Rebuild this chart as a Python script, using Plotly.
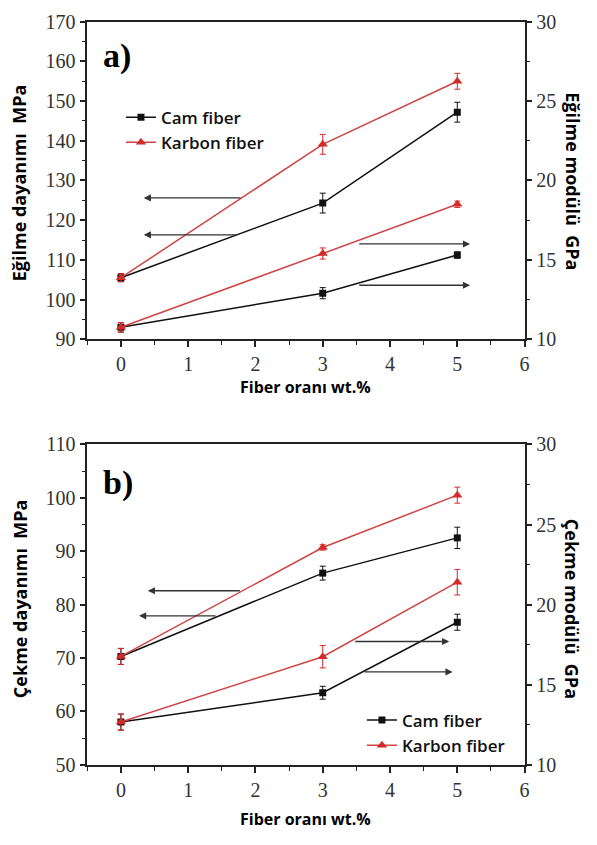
import plotly.graph_objects as go

# ---------------- data ----------------
x_fiber = [0, 3, 5]

# (a) Eğilme
cam_egilme_dayanim = [105.5, 124.3, 147.2]
cam_egilme_dayanim_err = [1.0, 2.5, 2.5]
karbon_egilme_dayanim = [105.5, 139.1, 155.0]
karbon_egilme_dayanim_err = [1.0, 2.5, 2.0]
cam_egilme_modul = [10.75, 12.9, 15.3]
cam_egilme_modul_err = [0.3, 0.35, 0.2]
karbon_egilme_modul = [10.75, 15.4, 18.5]
karbon_egilme_modul_err = [0.3, 0.35, 0.2]

# (b) Çekme
cam_cekme_dayanim = [70.3, 85.9, 92.5]
cam_cekme_dayanim_err = [1.5, 1.3, 2.0]
karbon_cekme_dayanim = [70.3, 90.7, 100.5]
karbon_cekme_dayanim_err = [1.5, 0.5, 1.5]
cam_cekme_modul = [12.67, 14.5, 18.9]
cam_cekme_modul_err = [0.5, 0.4, 0.5]
karbon_cekme_modul = [12.67, 16.75, 21.4]
karbon_cekme_modul_err = [0.5, 0.7, 0.8]

series_names = ["Cam fiber", "Karbon fiber"]

# arrows: (axis ref, head x, head y, tail x, tail y)
arrows_a = [
    ("y", 0.34, 125.6, 1.8, 125.6),
    ("y", 0.34, 116.3, 1.73, 116.3),
    ("y2", 5.19, 16.0, 3.52, 16.0),
    ("y2", 5.19, 13.4, 3.52, 13.4),
]
arrows_b = [
    ("y3", 0.4, 82.6, 1.79, 82.6),
    ("y3", 0.27, 77.9, 1.43, 77.9),
    ("y4", 4.88, 17.7, 3.46, 17.7),
    ("y4", 4.93, 15.8, 3.6, 15.8),
]

BLACK = "#111111"
RED = "#d42a2a"
RED_LINE = "#cf4545"

fig = go.Figure()

def add_series(xa, ya, y, err, color, line_color, symbol, size, name, legend, show):
    fig.add_trace(go.Scatter(
        x=x_fiber, y=y, xaxis=xa, yaxis=ya,
        mode="lines+markers", name=name, legend=legend, showlegend=show,
        line=dict(color=line_color, width=1.5),
        marker=dict(color=color, symbol=symbol, size=size),
        error_y=dict(type="data", array=err, visible=True, color=color,
                     thickness=1, width=3),
    ))

# top (a)
add_series("x", "y2", cam_egilme_modul, cam_egilme_modul_err, BLACK, BLACK, "square", 7, series_names[0], "legend", False)
add_series("x", "y2", karbon_egilme_modul, karbon_egilme_modul_err, RED, RED_LINE, "triangle-up", 9, series_names[1], "legend", False)
add_series("x", "y", cam_egilme_dayanim, cam_egilme_dayanim_err, BLACK, BLACK, "square", 7, series_names[0], "legend", True)
add_series("x", "y", karbon_egilme_dayanim, karbon_egilme_dayanim_err, RED, RED_LINE, "triangle-up", 9, series_names[1], "legend", True)

# bottom (b)
add_series("x2", "y4", cam_cekme_modul, cam_cekme_modul_err, BLACK, BLACK, "square", 7, series_names[0], "legend2", False)
add_series("x2", "y4", karbon_cekme_modul, karbon_cekme_modul_err, RED, RED_LINE, "triangle-up", 9, series_names[1], "legend2", False)
add_series("x2", "y3", cam_cekme_dayanim, cam_cekme_dayanim_err, BLACK, BLACK, "square", 7, series_names[0], "legend2", True)
add_series("x2", "y3", karbon_cekme_dayanim, karbon_cekme_dayanim_err, RED, RED_LINE, "triangle-up", 9, series_names[1], "legend2", True)

TICKFONT = dict(family="Liberation Serif", size=20, color="#333333")
YTITLEFONT = dict(family="Open Sans", size=18, color="#000000", weight="bold")
XTITLEFONT = dict(family="Open Sans", size=16, color="#000000", weight="bold")
LEGFONT = dict(family="Open Sans", size=17, color="#111", weight=600)

XDOM = [88 / 597, 529 / 597]
TOPDOM = [1 - 337 / 845, 1 - 11 / 845]
BOTDOM = [1 - 774 / 845, 1 - 445 / 845]

def xax(anchor):
    return dict(domain=XDOM, anchor=anchor, range=[-0.5, 6], dtick=1, tick0=0,
                showline=True, linecolor="#222", linewidth=1.5, mirror=True,
                ticks="outside", ticklen=6, tickwidth=1.5, tickcolor="#222",
                minor=dict(dtick=0.5, ticks="outside", ticklen=4, tickwidth=1.2, tickcolor="#222"),
                showgrid=False, zeroline=False, tickfont=TICKFONT)

def yax(dom, rng, dtick, minor, anchor, side="left", overlaying=None):
    d = dict(domain=dom, anchor=anchor, range=rng, dtick=dtick, side=side,
             showline=True, linecolor="#222", linewidth=1.5,
             ticks="outside", ticklen=6, tickwidth=1.5, tickcolor="#222",
             minor=dict(dtick=minor, ticks="outside", ticklen=4, tickwidth=1.2, tickcolor="#222"),
             showgrid=False, zeroline=False, tickfont=TICKFONT)
    if overlaying:
        d["overlaying"] = overlaying
    return d

fig.update_layout(
    width=597, height=845,
    margin=dict(l=0, r=0, t=0, b=0),
    paper_bgcolor="white", plot_bgcolor="white",
    xaxis=xax("y"),
    yaxis=yax(TOPDOM, [90, 170], 10, 5, "x"),
    yaxis2=yax(TOPDOM, [10, 30], 5, 2.5, "x", side="right", overlaying="y"),
    xaxis2=xax("y3"),
    yaxis3=yax(BOTDOM, [50, 110], 10, 5, "x2"),
    yaxis4=yax(BOTDOM, [10, 30], 5, 2.5, "x2", side="right", overlaying="y3"),
    legend=dict(x=122 / 597, y=1 - 91 / 845, xanchor="left", yanchor="top",
                bgcolor="rgba(0,0,0,0)", font=LEGFONT, tracegroupgap=0, itemwidth=30),
    legend2=dict(x=365 / 597, y=1 - 710 / 845, xanchor="left", yanchor="top",
                 bgcolor="rgba(0,0,0,0)", font=LEGFONT, tracegroupgap=0, itemwidth=30),
    showlegend=True,
)

annotations = []
for arrows, xref in ((arrows_a, "x"), (arrows_b, "x2")):
    for yref, hx, hy, tx, ty in arrows:
        annotations.append(dict(x=hx, y=hy, ax=tx, ay=ty, xref=xref, yref=yref,
                                axref=xref, ayref=yref, showarrow=True, text="",
                                arrowhead=2, arrowsize=1.1, arrowwidth=1.3, arrowcolor="#333"))

def ptext(txt, x, y, angle=0, font=YTITLEFONT, xanchor="center"):
    annotations.append(dict(text=txt, x=x, y=y, xref="paper", yref="paper", showarrow=False,
                            textangle=angle, font=font, xanchor=xanchor, yanchor="middle"))

ptext("Eğilme dayanımı  MPa", 20 / 597, 1 - 176 / 845, -90)
ptext("Eğilme modülü  GPa", 577 / 597, 1 - 175 / 845, 90)
ptext("Fiber oranı wt.%", 308 / 597, 1 - 386 / 845, font=XTITLEFONT)
ptext("Çekme dayanımı  MPa", 20 / 597, 1 - 603 / 845, -90)
ptext("Çekme modülü  GPa", 577 / 597, 1 - 614 / 845, 90)
ptext("Fiber oranı wt.%", 308 / 597, 1 - 830 / 845, font=XTITLEFONT)
PANEL = dict(family="Liberation Serif", size=34, color="#000", weight="bold")
ptext("a)", 102 / 597, 1 - 46 / 845, font=PANEL, xanchor="left")
ptext("b)", 102 / 597, 1 - 485 / 845, font=PANEL, xanchor="left")

fig.update_layout(annotations=annotations)

fig.write_html("out.html")
